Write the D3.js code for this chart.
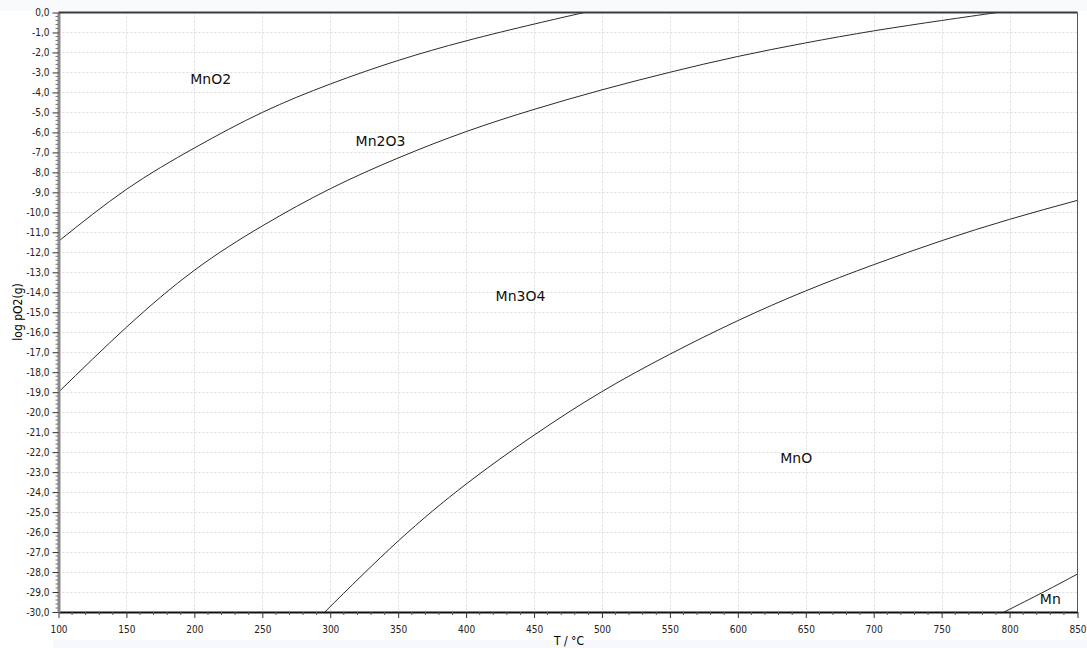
<!DOCTYPE html>
<html>
<head>
<meta charset="utf-8">
<script src="https://cdn.jsdelivr.net/npm/d3@7"></script>
<style>
    body { margin: 0; background: #ffffff; }
    svg { display: block; }
    .tick text { font-family: "DejaVu Sans Condensed", "DejaVu Sans", sans-serif; font-size: 10px; fill: #222; }
</style>
</head>
<body>
<div id="chart"></div>
<script>
// phase boundaries, log pO2 vs T (°C)
const mnO2Mn2O3T = [100, 150, 200, 250, 300, 350, 400, 450, 487];
const mnO2Mn2O3P = [-11.45, -8.85, -6.78, -5.0, -3.58, -2.4, -1.42, -0.58, 0];

const mn2O3Mn3O4T = [100, 150, 200, 250, 300, 350, 400, 450, 500, 550, 600, 650, 700, 750, 791];
const mn2O3Mn3O4P = [-19.0, -15.75, -12.9, -10.68, -8.82, -7.28, -5.96, -4.85, -3.87, -2.99, -2.2, -1.52, -0.92, -0.4, 0];

const mn3O4MnOT = [296, 350, 400, 450, 500, 550, 600, 650, 700, 750, 800, 850];
const mn3O4MnOP = [-30, -26.45, -23.6, -21.15, -18.97, -17.1, -15.42, -13.93, -12.62, -11.42, -10.35, -9.4];

const mnOMnT = [796, 825, 850];
const mnOMnP = [-30, -29.0, -28.1];

const phaseLabels = ["MnO2", "Mn2O3", "Mn3O4", "MnO", "Mn"];
const phaseLabelT = [212, 337, 440, 643, 830];
const phaseLabelP = [-3.4, -6.5, -14.25, -22.35, -29.4];

const xTicks = d3.range(100, 851, 50);
const yTicks = d3.range(0, -31, -1);

const W = 1087, H = 648;
const svg = d3.select("#chart").append("svg")
    .attr("width", W)
    .attr("height", H);

let x = d3.scaleLinear().domain([100, 850]).range([58.5, 1077.5]);
let y = d3.scaleLinear().domain([0, -30]).range([12.5, 612]);

// faint background outside the plot
svg.append("rect").attr("x", 0).attr("y", 0).attr("width", W).attr("height", 11)
    .attr("fill", "#f9fafc");
svg.append("rect").attr("x", 53).attr("y", 640).attr("width", W - 53).attr("height", 8)
    .attr("fill", "#f7f8fb");

svg.append("rect")
    .attr("x", x(100)).attr("y", y(0))
    .attr("width", x(850) - x(100)).attr("height", y(-30) - y(0))
    .attr("fill", "#fff");

// grid
let grid = svg.append("g");
grid.selectAll("line.vx")
    .data(xTicks.slice(1, -1))
    .join("line")
    .attr("x1", d => Math.round(x(d)) + 0.5).attr("x2", d => Math.round(x(d)) + 0.5)
    .attr("y1", y(0)).attr("y2", y(-30))
    .attr("stroke", "#dcdcdc").attr("stroke-dasharray", "2,2");
grid.selectAll("line.hy")
    .data(yTicks.slice(1, -1))
    .join("line")
    .attr("y1", d => Math.round(y(d)) + 0.5).attr("y2", d => Math.round(y(d)) + 0.5)
    .attr("x1", x(100)).attr("x2", x(850))
    .attr("stroke", "#dcdcdc").attr("stroke-dasharray", "2,2");

// curves
svg.append("clipPath").attr("id", "clip")
    .append("rect")
    .attr("x", x(100)).attr("y", y(0))
    .attr("width", x(850) - x(100)).attr("height", y(-30) - y(0));

let line = d3.line()
    .x(d => x(d[0]))
    .y(d => y(d[1]))
    .curve(d3.curveNatural);

let curves = [
    [mnO2Mn2O3T, mnO2Mn2O3P],
    [mn2O3Mn3O4T, mn2O3Mn3O4P],
    [mn3O4MnOT, mn3O4MnOP],
    [mnOMnT, mnOMnP]
];
svg.append("g").attr("clip-path", "url(#clip)")
    .selectAll("path")
    .data(curves)
    .join("path")
    .attr("d", c => line(c[0].map((t, i) => [t, c[1][i]])))
    .attr("fill", "none")
    .attr("stroke", "#2a2a2a")
    .attr("stroke-width", 1);

// labels
svg.append("g").selectAll("text")
    .data(phaseLabels)
    .join("text")
    .attr("x", (d, i) => x(phaseLabelT[i]))
    .attr("y", (d, i) => y(phaseLabelP[i]))
    .attr("text-anchor", "middle")
    .attr("dominant-baseline", "middle")
    .style("font-family", "'DejaVu Sans', sans-serif")
    .style("font-size", "14px")
    .style("fill", "#111")
    .text(d => d);

// axes
let xAxis = svg.append("g")
    .attr("transform", `translate(0, ${y(-30)})`)
    .call(d3.axisBottom(x).tickValues(xTicks).tickSize(6).tickSizeOuter(0).tickFormat(d3.format("d")));
xAxis.select(".domain").attr("stroke", "#111").attr("stroke-width", 2);
xAxis.selectAll(".tick line").attr("stroke", "#333");
xAxis.selectAll(".tick text").attr("dy", "1.2em");
svg.append("g").selectAll("line")
    .data(d3.range(100, 851, 10).filter(d => d % 50 !== 0))
    .join("line")
    .attr("x1", d => x(d)).attr("x2", d => x(d))
    .attr("y1", y(-30)).attr("y2", y(-30) + 3)
    .attr("stroke", "#555");

let yAxis = svg.append("g")
    .attr("transform", `translate(${x(100)}, 0)`)
    .call(d3.axisLeft(y).tickValues(yTicks).tickSize(6).tickSizeOuter(0)
        .tickFormat(d => d.toFixed(1).replace(".", ",").replace("-0,0", "0,0")));
yAxis.select(".domain").attr("stroke", "#8a8a8a").attr("stroke-width", 3);
yAxis.selectAll(".tick line").attr("stroke", "#333");
yAxis.selectAll(".tick text").attr("x", -9);
svg.append("g").selectAll("line")
    .data(d3.range(0, 151, 1).filter(d => d % 5 !== 0).map(d => -d / 5))
    .join("line")
    .attr("x1", x(100) - 3).attr("x2", x(100))
    .attr("y1", d => y(d)).attr("y2", d => y(d))
    .attr("stroke", "#777");

// frame top/right
svg.append("line")
    .attr("x1", x(100)).attr("x2", x(850))
    .attr("y1", y(0)).attr("y2", y(0))
    .attr("stroke", "#3a3a3a").attr("stroke-width", 2);
svg.append("line")
    .attr("x1", x(850)).attr("x2", x(850))
    .attr("y1", y(0)).attr("y2", y(-30))
    .attr("stroke", "#555").attr("stroke-width", 1);

// axis titles
svg.append("text")
    .attr("x", 569).attr("y", 645)
    .attr("text-anchor", "middle")
    .style("font-family", "'DejaVu Sans Condensed', 'DejaVu Sans', sans-serif")
    .style("font-size", "12px")
    .text("T / °C");
svg.append("text")
    .attr("transform", "translate(22, 312) rotate(-90)")
    .attr("text-anchor", "middle")
    .style("font-family", "'DejaVu Sans Condensed', 'DejaVu Sans', sans-serif")
    .style("font-size", "12px")
    .text("log pO2(g)");
</script>
</body>
</html>
